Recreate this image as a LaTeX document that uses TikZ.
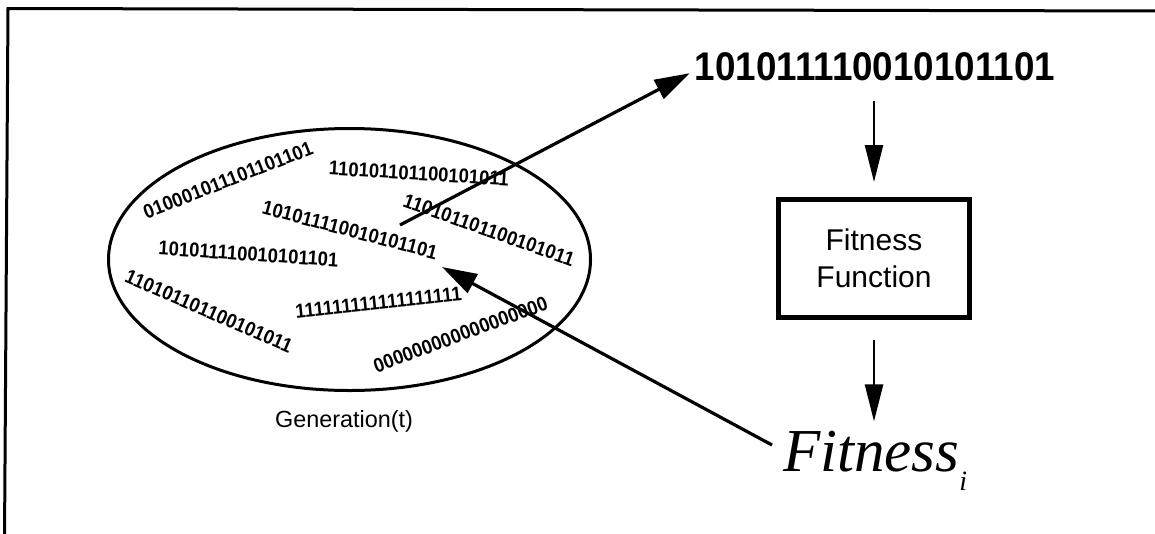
\documentclass[tikz,border=0pt]{standalone}
\usepackage{fontspec}
\setmainfont{Liberation Sans}
\newfontfamily\timesfont{Liberation Serif}
\newfontfamily\narrowsans[FakeStretch=0.92]{Liberation Sans}
\usetikzlibrary{arrows.meta,shapes.geometric,calc}
\begin{document}
\begin{tikzpicture}[x=1pt,y=-1pt,
  bits/.style={font=\narrowsans\fontsize{20}{22}\selectfont\bfseries, inner sep=0pt},
  bigarrow/.style={line width=3.2pt, -{Triangle[length=35pt,width=21pt]}},
  downarrow/.style={line width=2.4pt, -{Triangle[length=37pt,width=18pt]}},
  frame/.style={line width=3pt},
]
\useasboundingbox (0,0) rectangle (1155,533);

% page frame (top and left rules)
\draw[frame] (1160,11) -- (8,8.5) -- (4.5,540);

% the population
\node[draw, ellipse, line width=3pt, minimum width=482pt, minimum height=262pt,
      inner sep=0pt] (pop) at (349.5,259.5) {};

\node[bits, rotate=21.4]  (c1) at (228,180)     {010001011101101101};
\node[bits, rotate=-3.5]  (c2) at (419,173.5)   {110101101100101011};
\node[bits, rotate=-19.6] (c3) at (489,230)     {110101101100101011};
\node[bits, rotate=-14.8] (c4) at (350,230)     {101011110010101101};
\node[bits, rotate=-3.8]  (c5) at (248.5,254)   {101011110010101101};
\node[bits, rotate=-23.5] (c6) at (209,311.5)   {110101101100101011};
\node[bits, rotate=6]     (c7) at (378.5,302.5) {111111111111111111};
\node[bits, rotate=20.4]  (c8) at (460.5,334.5) {000000000000000000};

\node[font=\fontsize{23.4}{26}\selectfont, anchor=base, inner sep=0pt]
  (gen) at (344,427) {Generation(t)};

% selected individual, evaluator and result
\node[font=\narrowsans\fontsize{40}{44}\selectfont\bfseries, inner sep=0pt, anchor=base]
  (best) at (875,80) {101011110010101101};

\node[draw, line width=5pt, minimum width=191pt, minimum height=118pt,
      align=center, font=\fontsize{30}{37}\selectfont]
  (ff) at (874,258.5) {Fitness\\Function};

\node[inner sep=0pt, anchor=base west,
      font=\timesfont\itshape\fontsize{61}{61}\selectfont]
  (fit) at (783,471) {Fitness\raisebox{-19pt}{\fontsize{28}{28}\selectfont i}};

% connectors
\coordinate (pick) at (400,225);
\coordinate (back) at (442,267);
\draw[bigarrow] (pick) -- ([shift={(-5pt,-7pt)}]best.west);
\draw[bigarrow] ([shift={(-11pt,26pt)}]fit.base west) -- (back);
\draw[downarrow] ([yshift=-20pt]best.south -| ff.north) -- ([yshift=15pt]ff.north);
\draw[downarrow] ([yshift=-20pt]ff.south) -- ($(ff.south |- fit.north)+(0,-9)$);
\end{tikzpicture}
\end{document}
